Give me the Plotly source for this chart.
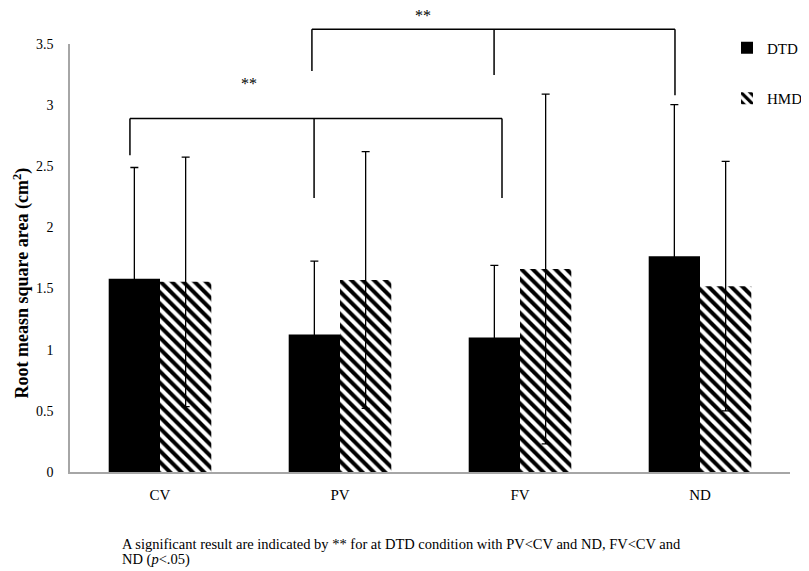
import plotly.graph_objects as go

# ---- data ----
categories = ["CV", "PV", "FV", "ND"]
dtd_values = [1.58, 1.125, 1.10, 1.765]
dtd_errors = [0.91, 0.60, 0.59, 1.24]
hmd_values = [1.555, 1.57, 1.66, 1.52]
hmd_errors = [1.02, 1.05, 1.43, 1.02]
y_tick_values = [0, 0.5, 1, 1.5, 2, 2.5, 3, 3.5]
y_tick_labels = ["0", "0.5", "1", "1.5", "2", "2.5", "3", "3.5"]
Y_MAX = 3.5

# significance brackets (x in category units, y in data units)
bracket_lower_top = 2.89
bracket_lower_legs = [(-0.167, 2.59), (0.856, 2.24), (1.9, 2.24)]
bracket_lower_label = (0.494, 3.18)
bracket_upper_top = 3.62
bracket_upper_legs = [(0.844, 3.28), (1.856, 3.246), (2.861, 3.08)]
bracket_upper_label = (1.461, 3.73)

caption_line1 = "A significant result are indicated by ** for at DTD condition with PV&lt;CV and ND, FV&lt;CV and"
caption_line2 = "ND (<i>p</i>&lt;.05)"

FONT = "Liberation Serif"
x_pos = list(range(len(categories)))

fig = go.Figure()
fig.add_trace(go.Bar(
    x=x_pos, y=dtd_values, name="DTD", legendgroup="a",
    marker=dict(color="black", line=dict(width=0)),
    error_y=dict(type="data", array=dtd_errors, color="black", thickness=1.3, width=4),
))
fig.add_trace(go.Bar(
    x=x_pos, y=hmd_values, name="HMD", legendgroup="b",
    marker=dict(color="white", line=dict(width=0),
                pattern=dict(shape="\\", fgcolor="black", bgcolor="white", fgopacity=1,
                             size=8, solidity=0.5, fillmode="replace")),
    error_y=dict(type="data", array=hmd_errors, color="black", thickness=1.3, width=4),
))

shapes = []
def add_bracket(top, legs):
    xs = [l[0] for l in legs]
    shapes.append(dict(type="line", xref="x", yref="paper",
                       x0=min(xs), x1=max(xs), y0=top / Y_MAX, y1=top / Y_MAX,
                       line=dict(color="black", width=1.5)))
    for lx, lb in legs:
        shapes.append(dict(type="line", xref="x", yref="paper",
                           x0=lx, x1=lx, y0=lb / Y_MAX, y1=top / Y_MAX,
                           line=dict(color="black", width=1.5)))

add_bracket(bracket_lower_top, bracket_lower_legs)
add_bracket(bracket_upper_top, bracket_upper_legs)

annotations = []
for (lx, ly) in [bracket_lower_label, bracket_upper_label]:
    annotations.append(dict(x=lx, y=ly / Y_MAX, xref="x", yref="paper", text="**",
                            showarrow=False, font=dict(family=FONT, size=16, color="black"),
                            xanchor="center", yanchor="middle"))
annotations.append(dict(x=-0.0667, y=1.55 / Y_MAX, xref="paper", yref="paper",
                        text="<b>Root measn square area (cm<sup>2</sup>)</b>",
                        textangle=-90, showarrow=False,
                        font=dict(family=FONT, size=18, color="black"),
                        xanchor="center", yanchor="middle"))
annotations.append(dict(x=0.0694, y=-0.1682, xref="paper", yref="paper", text=caption_line1,
                        showarrow=False, font=dict(family=FONT, size=14.5, color="black"),
                        xanchor="left", yanchor="middle"))
annotations.append(dict(x=0.0694, y=-0.2056, xref="paper", yref="paper", text=caption_line2,
                        showarrow=False, font=dict(family=FONT, size=14.5, color="black"),
                        xanchor="left", yanchor="middle"))

# the page body has an 8px margin, so the figure is sized to end at 809x571
fig.update_layout(
    width=801, height=563,
    margin=dict(l=62, r=19, t=36, b=99, autoexpand=False),
    paper_bgcolor="white", plot_bgcolor="white",
    barmode="group", bargap=0.43, bargroupgap=0,
    font=dict(family=FONT, color="black"),
    shapes=shapes, annotations=annotations,
    legend=dict(x=0.9125, y=1.029, xanchor="left", yanchor="top",
                traceorder="grouped", tracegroupgap=28,
                font=dict(family=FONT, size=15, color="black"),
                bgcolor="rgba(0,0,0,0)", itemwidth=30),
    xaxis=dict(range=[-0.5, 3.5], tickvals=x_pos, ticktext=categories,
               showline=True, linecolor="#a6a6a6", linewidth=1.5,
               showgrid=False, zeroline=False, ticks="",
               ticklabelstandoff=8, tickfont=dict(family=FONT, size=15, color="black")),
    yaxis=dict(range=[0, Y_MAX], tickvals=y_tick_values, ticktext=y_tick_labels,
               showline=True, linecolor="#a6a6a6", linewidth=1.5,
               showgrid=False, zeroline=False, ticks="",
               ticklabelstandoff=12, tickfont=dict(family=FONT, size=14, color="black")),
)

fig.write_html("out.html")
